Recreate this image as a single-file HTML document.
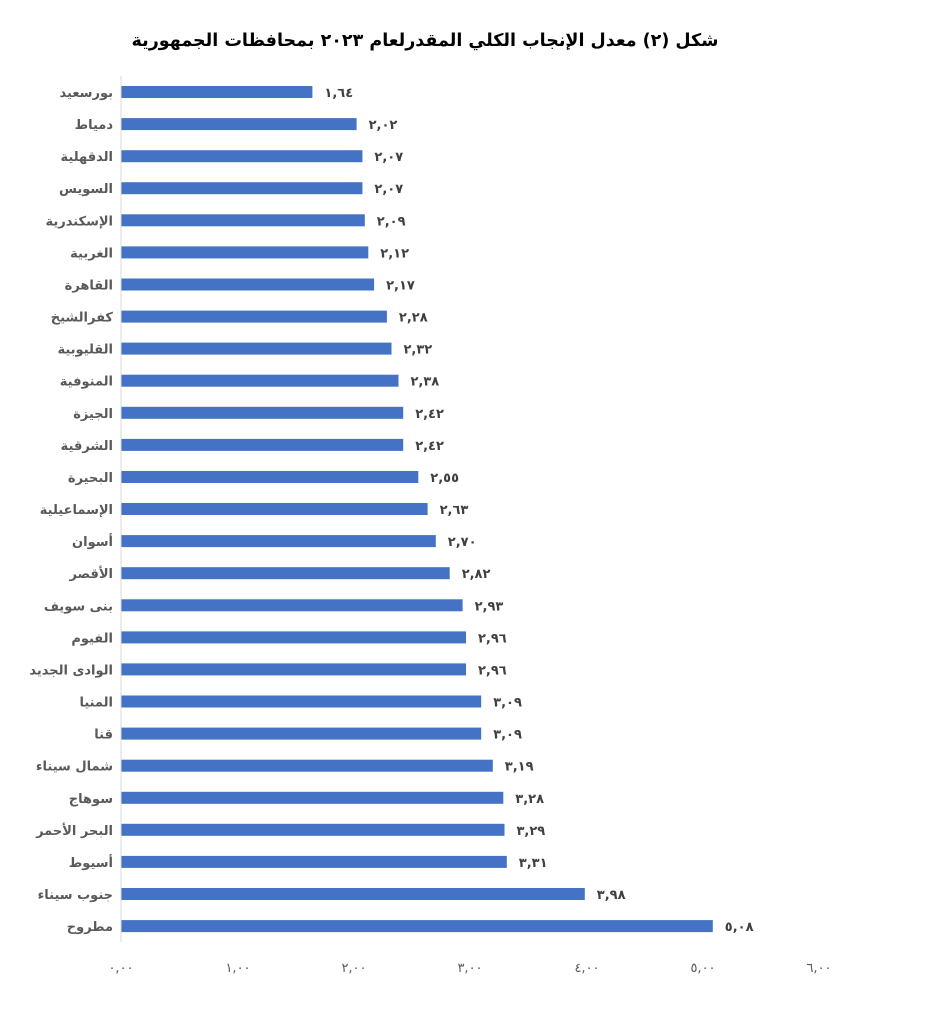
<!DOCTYPE html>
<html><head><meta charset="utf-8"><style>
body{margin:0;background:#fff}
svg text{font-family:"DejaVu Sans","Liberation Sans",sans-serif}
.l{font-size:13px;font-weight:bold;fill:#595959;text-anchor:end}
.v{font-size:13px;font-weight:bold;fill:#404040}
</style></head><body>
<svg width="926" height="1021" xmlns="http://www.w3.org/2000/svg">
<text x="425" y="46" text-anchor="middle" font-size="17.5" font-weight="bold" fill="#000">شكل (٢) معدل الإنجاب الكلي المقدرلعام ٢٠٢٣ بمحافظات الجمهورية</text>
<line x1="121" y1="76" x2="121" y2="942" stroke="#d9d9d9" stroke-width="1"/>
<g fill="#4472c4">
<g transform="translate(0,92)"><rect x="121.5" y="-6" width="190.9" height="12"/><text class="l" x="113" y="5">بورسعيد</text><text class="v" x="324.4" y="5">١,٦٤</text></g>
<g transform="translate(0,124.1)"><rect x="121.5" y="-6" width="235.1" height="12"/><text class="l" x="113" y="5">دمياط</text><text class="v" x="368.6" y="5">٢,٠٢</text></g>
<g transform="translate(0,156.2)"><rect x="121.5" y="-6" width="240.9" height="12"/><text class="l" x="113" y="5">الدقهلية</text><text class="v" x="374.4" y="5">٢,٠٧</text></g>
<g transform="translate(0,188.2)"><rect x="121.5" y="-6" width="240.9" height="12"/><text class="l" x="113" y="5">السويس</text><text class="v" x="374.4" y="5">٢,٠٧</text></g>
<g transform="translate(0,220.3)"><rect x="121.5" y="-6" width="243.3" height="12"/><text class="l" x="113" y="5">الإسكندرية</text><text class="v" x="376.8" y="5">٢,٠٩</text></g>
<g transform="translate(0,252.4)"><rect x="121.5" y="-6" width="246.8" height="12"/><text class="l" x="113" y="5">الغربية</text><text class="v" x="380.3" y="5">٢,١٢</text></g>
<g transform="translate(0,284.5)"><rect x="121.5" y="-6" width="252.6" height="12"/><text class="l" x="113" y="5">القاهرة</text><text class="v" x="386.1" y="5">٢,١٧</text></g>
<g transform="translate(0,316.6)"><rect x="121.5" y="-6" width="265.4" height="12"/><text class="l" x="113" y="5">كفرالشيخ</text><text class="v" x="398.9" y="5">٢,٢٨</text></g>
<g transform="translate(0,348.6)"><rect x="121.5" y="-6" width="270" height="12"/><text class="l" x="113" y="5">القليوبية</text><text class="v" x="403.5" y="5">٢,٣٢</text></g>
<g transform="translate(0,380.7)"><rect x="121.5" y="-6" width="277" height="12"/><text class="l" x="113" y="5">المنوفية</text><text class="v" x="410.5" y="5">٢,٣٨</text></g>
<g transform="translate(0,412.8)"><rect x="121.5" y="-6" width="281.7" height="12"/><text class="l" x="113" y="5">الجيزة</text><text class="v" x="415.2" y="5">٢,٤٢</text></g>
<g transform="translate(0,444.9)"><rect x="121.5" y="-6" width="281.7" height="12"/><text class="l" x="113" y="5">الشرقية</text><text class="v" x="415.2" y="5">٢,٤٢</text></g>
<g transform="translate(0,477)"><rect x="121.5" y="-6" width="296.8" height="12"/><text class="l" x="113" y="5">البحيرة</text><text class="v" x="430.3" y="5">٢,٥٥</text></g>
<g transform="translate(0,509)"><rect x="121.5" y="-6" width="306.1" height="12"/><text class="l" x="113" y="5">الإسماعيلية</text><text class="v" x="439.6" y="5">٢,٦٣</text></g>
<g transform="translate(0,541.1)"><rect x="121.5" y="-6" width="314.3" height="12"/><text class="l" x="113" y="5">أسوان</text><text class="v" x="447.8" y="5">٢,٧٠</text></g>
<g transform="translate(0,573.2)"><rect x="121.5" y="-6" width="328.2" height="12"/><text class="l" x="113" y="5">الأقصر</text><text class="v" x="461.7" y="5">٢,٨٢</text></g>
<g transform="translate(0,605.3)"><rect x="121.5" y="-6" width="341.1" height="12"/><text class="l" x="113" y="5">بنى سويف</text><text class="v" x="474.6" y="5">٢,٩٣</text></g>
<g transform="translate(0,637.4)"><rect x="121.5" y="-6" width="344.5" height="12"/><text class="l" x="113" y="5">الفيوم</text><text class="v" x="478" y="5">٢,٩٦</text></g>
<g transform="translate(0,669.4)"><rect x="121.5" y="-6" width="344.5" height="12"/><text class="l" x="113" y="5">الوادى الجديد</text><text class="v" x="478" y="5">٢,٩٦</text></g>
<g transform="translate(0,701.5)"><rect x="121.5" y="-6" width="359.7" height="12"/><text class="l" x="113" y="5">المنيا</text><text class="v" x="493.2" y="5">٣,٠٩</text></g>
<g transform="translate(0,733.6)"><rect x="121.5" y="-6" width="359.7" height="12"/><text class="l" x="113" y="5">قنا</text><text class="v" x="493.2" y="5">٣,٠٩</text></g>
<g transform="translate(0,765.7)"><rect x="121.5" y="-6" width="371.3" height="12"/><text class="l" x="113" y="5">شمال سيناء</text><text class="v" x="504.8" y="5">٣,١٩</text></g>
<g transform="translate(0,797.8)"><rect x="121.5" y="-6" width="381.8" height="12"/><text class="l" x="113" y="5">سوهاج</text><text class="v" x="515.3" y="5">٣,٢٨</text></g>
<g transform="translate(0,829.8)"><rect x="121.5" y="-6" width="383" height="12"/><text class="l" x="113" y="5">البحر الأحمر</text><text class="v" x="516.5" y="5">٣,٢٩</text></g>
<g transform="translate(0,861.9)"><rect x="121.5" y="-6" width="385.3" height="12"/><text class="l" x="113" y="5">أسيوط</text><text class="v" x="518.8" y="5">٣,٣١</text></g>
<g transform="translate(0,894)"><rect x="121.5" y="-6" width="463.3" height="12"/><text class="l" x="113" y="5">جنوب سيناء</text><text class="v" x="596.8" y="5">٣,٩٨</text></g>
<g transform="translate(0,926.1)"><rect x="121.5" y="-6" width="591.3" height="12"/><text class="l" x="113" y="5">مطروح</text><text class="v" x="724.8" y="5">٥,٠٨</text></g>
</g>
<g font-size="13" fill="#595959" text-anchor="middle">
<text x="121" y="972">٠,٠٠</text><text x="238" y="972">١,٠٠</text><text x="354" y="972">٢,٠٠</text><text x="470" y="972">٣,٠٠</text><text x="587" y="972">٤,٠٠</text><text x="703" y="972">٥,٠٠</text><text x="819" y="972">٦,٠٠</text>
</g>
</svg>
</body></html>
